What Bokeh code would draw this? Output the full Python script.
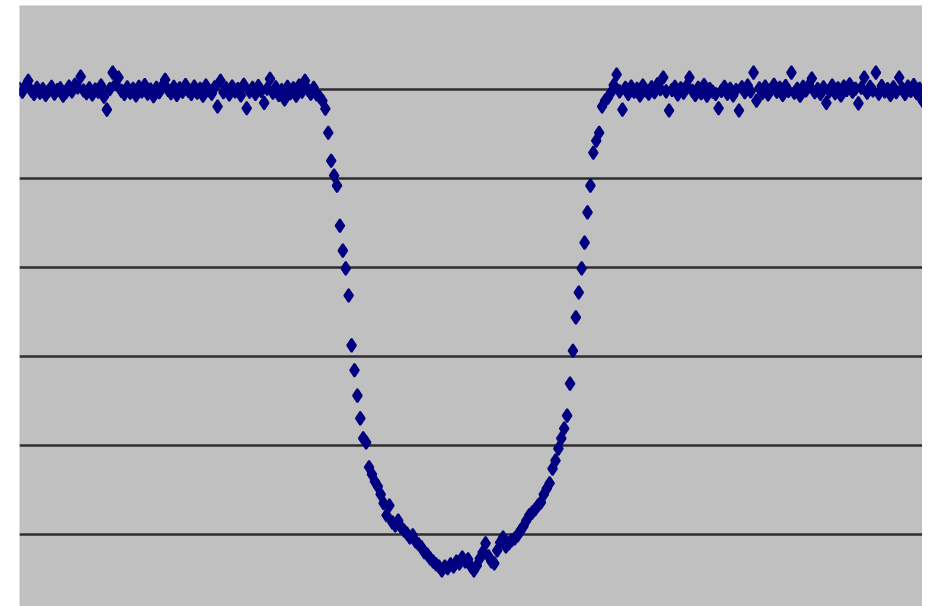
from bokeh.plotting import figure
from bokeh.models import Range1d, FixedTicker, ColumnDataSource
from bokeh.embed import file_html
from bokeh.resources import INLINE

flux_pre = [
    100.02, 99.95, 100.08, 100.20, 99.98, 99.90, 100.04, 99.93, 100.01, 99.88,
    99.97, 100.06, 99.91, 99.99, 100.03, 99.86, 99.94, 100.07, 99.96, 100.11,
    100.05, 100.29, 99.98, 99.92, 100.03, 99.89, 100.00, 99.95, 100.09, 99.84,
    99.55, 100.01, 100.38, 100.12, 100.27, 99.97, 99.90, 100.05, 99.93, 100.02,
    99.87, 100.06, 99.96, 100.10, 99.91, 100.00, 99.85, 100.04, 99.94, 100.08,
    100.22, 99.99, 99.92, 100.06, 99.88, 100.03, 99.95, 100.10, 99.97, 99.90,
    100.07, 99.93, 100.02, 99.86, 100.09, 99.98, 99.91, 100.05, 99.62, 100.20,
    99.94, 100.03, 99.89, 100.07, 99.96, 100.01, 99.87, 100.11, 99.58, 99.95,
    100.04, 99.90, 100.08, 99.97, 99.70, 100.02, 100.24, 99.93, 100.05, 99.88,
    99.99, 99.78, 100.06, 99.92, 100.03, 99.86, 100.09, 99.95, 100.20, 100.00,
    99.91, 100.04, 99.89,
]
flux_transit = [
    99.84, 99.75, 99.57, 99.03, 98.40, 98.07, 97.84, 96.94, 96.38, 95.98,
    95.37, 94.25, 93.69, 93.12, 92.61, 92.16, 92.07, 91.51, 91.35, 91.19,
    91.08, 90.90, 90.70, 90.43, 90.65, 90.27, 90.20, 90.31, 90.16, 90.09,
    90.02, 89.93, 89.98, 89.84, 89.78, 89.71, 89.60, 89.55, 89.46, 89.39,
    89.33, 89.28, 89.19, 89.28, 89.24, 89.33, 89.28, 89.39, 89.35, 89.48,
    89.39, 89.44, 89.28, 89.19, 89.30, 89.46, 89.60, 89.80, 89.51, 89.39,
    89.35, 89.64, 89.82, 89.93, 89.73, 89.80, 89.87, 89.91, 89.98, 90.09,
    90.18, 90.31, 90.43, 90.49, 90.56, 90.65, 90.72, 90.90, 91.03, 91.15,
    91.48, 91.66, 91.93, 92.16, 92.38, 92.67, 93.39, 94.13, 94.88, 95.44,
    95.98, 96.56, 97.24, 97.84, 98.58, 98.85, 99.03, 99.62, 99.75, 99.82,
]
flux_post = [
    99.93, 100.10, 100.34, 99.96, 99.55, 100.04, 99.90,
    100.07, 99.95, 100.02, 99.87, 100.09, 99.98, 99.91, 100.05, 99.94, 100.12,
    100.01, 100.27, 99.96, 99.53, 99.99, 100.06, 99.89, 100.03, 99.93, 100.08,
    100.27, 99.97, 99.88, 100.04, 99.92, 100.10, 99.86, 100.01, 99.95, 99.90,
    99.58, 99.97, 100.06, 99.91, 100.02, 99.87, 99.99, 99.53, 100.05, 99.94,
    100.09, 99.96, 100.38, 99.75, 100.03, 99.92, 100.07, 99.89, 100.00, 100.11,
    99.95, 100.04, 99.88, 100.08, 99.97, 100.38, 99.93, 100.02, 99.86, 100.06,
    99.98, 100.10, 100.25, 99.94, 100.01, 99.90, 100.05, 99.70, 99.96, 100.09,
    99.92, 100.03, 99.87, 100.07, 99.99, 100.12, 99.95, 100.02, 99.69, 100.04,
    100.27, 99.93, 100.06, 99.98, 100.38, 99.91, 100.08, 99.96, 100.01, 99.88,
    100.05, 99.94, 100.27, 100.03, 99.90, 100.07, 99.97, 100.10, 99.92, 100.02,
    99.75,
]
grid_levels = [90, 92, 94, 96, 98, 100]

flux = flux_pre + flux_transit + flux_post
frame = list(range(len(flux)))
src = ColumnDataSource(data=dict(frame=frame, flux=flux))

p = figure(width=922, height=606, output_backend="svg", toolbar_location=None,
           x_range=Range1d(0, len(flux) - 1), y_range=Range1d(88.38, 101.89),
           min_border_left=19, min_border_right=0, min_border_top=5, min_border_bottom=0)
p.background_fill_color = "#c0c0c0"
p.border_fill_color = "white"
p.outline_line_color = None
p.xaxis.visible = False
p.yaxis.visible = False
p.xgrid.visible = False
p.yaxis.ticker = FixedTicker(ticks=grid_levels)
p.ygrid.ticker = FixedTicker(ticks=grid_levels)
p.ygrid.grid_line_color = "#2e2e2e"
p.ygrid.grid_line_width = 2.5

p.scatter("frame", "flux", source=src, marker="diamond", size=13,
          fill_color="#000080", line_color="#000080", line_width=2)

open("out.html", "w").write(file_html(p, INLINE))
